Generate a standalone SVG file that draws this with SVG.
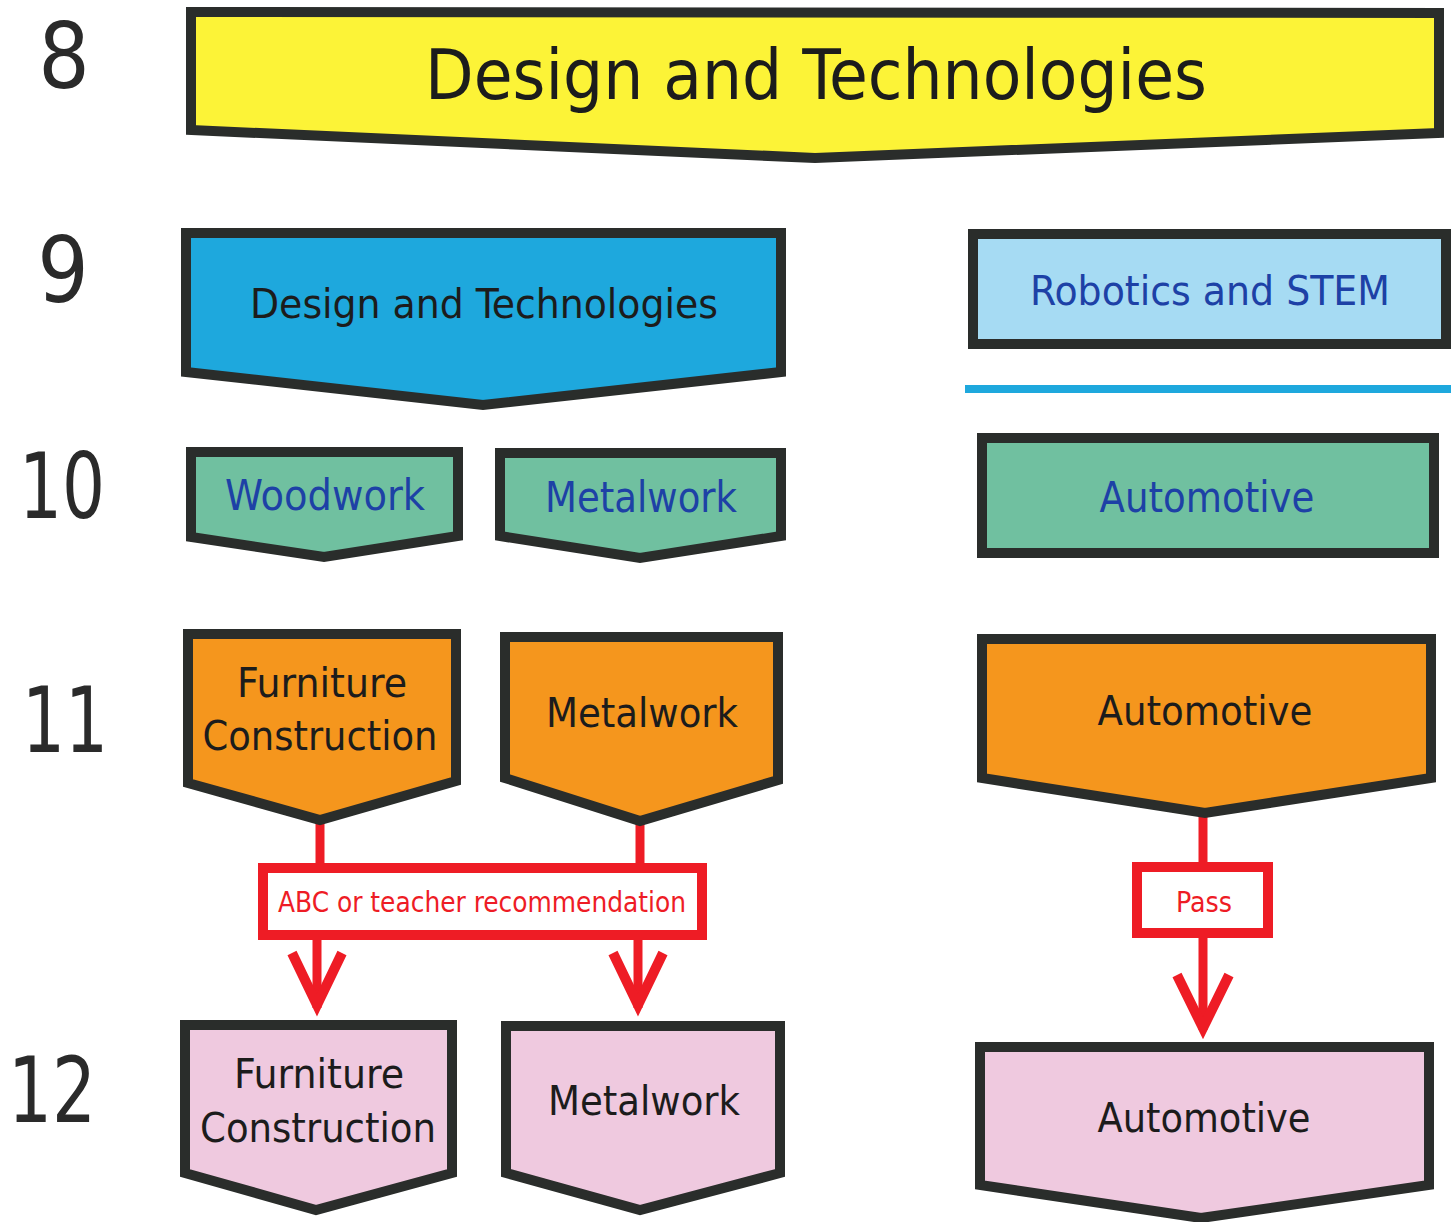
<svg xmlns="http://www.w3.org/2000/svg" width="1456" height="1222" viewBox="0 0 1456 1222">
<style>
.node{stroke:#2a2d2b;stroke-width:10;stroke-linejoin:miter}
.t{font-family:"DejaVu Sans Condensed","DejaVu Sans",sans-serif;font-stretch:condensed;text-anchor:middle}
.num{font-family:"DejaVu Sans Condensed","DejaVu Sans",sans-serif;font-stretch:condensed;text-anchor:middle;fill:#2a2a2a;font-size:90px}
.dark{fill:#1c1c1c}
.blue{fill:#1d41a6}
.red{stroke:#ee1c25;fill:none}
.redt{fill:#ee1c25}
.yellow{fill:#fcf337}
.sky{fill:#1ea8dd}
.light{fill:#a6dbf3}
.green{fill:#70c0a0}
.orange{fill:#f5961d}
.pink{fill:#efc9df}
</style>
<rect width="1456" height="1222" fill="#ffffff"/>
<g id="year-labels">
<text class="num" x="64" y="88">8</text>
<text class="num" x="63" y="302">9</text>
<text class="num" x="62" y="518" textLength="86" lengthAdjust="spacingAndGlyphs">10</text>
<text class="num" x="65" y="752" textLength="86" lengthAdjust="spacingAndGlyphs">11</text>
<text class="num" x="52" y="1122" textLength="88" lengthAdjust="spacingAndGlyphs">12</text>
</g>
<g id="connectors">
<g class="red" stroke-width="9">
<line x1="320" y1="820" x2="320" y2="868"/>
<line x1="640" y1="821" x2="640" y2="868"/>
<line x1="317" y1="938" x2="317" y2="1008"/>
<line x1="638" y1="938" x2="638" y2="1008"/>
<line x1="1203" y1="813" x2="1203" y2="866"/>
<line x1="1203" y1="936" x2="1203" y2="1030"/>
</g>
<g class="red" stroke-width="10" stroke-linejoin="miter" stroke-miterlimit="10">
<polyline points="292,953 317,1005 342,953"/>
<polyline points="613,953 638,1005 663,953"/>
<polyline points="1177,975 1203,1028 1229,975"/>
</g>
</g>
<g id="abc-recommendation">
<rect x="263" y="868" width="439" height="67" fill="#ffffff" stroke="#ee1c25" stroke-width="10"/>
<text class="t redt" x="482" y="912" font-size="28" textLength="408" lengthAdjust="spacingAndGlyphs">ABC or teacher recommendation</text>
</g>
<g id="pass">
<rect x="1137" y="867" width="131" height="66" fill="#ffffff" stroke="#ee1c25" stroke-width="10"/>
<text class="t redt" x="1204" y="912" font-size="28" textLength="56" lengthAdjust="spacingAndGlyphs">Pass</text>
</g>
<g id="y8-design-tech">
<polygon class="node yellow" points="191,12 1439,13 1439,133 815,158 191,130"/>
<text class="t dark" x="816" y="99" font-size="70" textLength="782" lengthAdjust="spacingAndGlyphs">Design and Technologies</text>
</g>
<g id="y9-design-tech">
<polygon class="node sky" points="186,233 781,233 781,372 483,405 186,372"/>
<text class="t dark" x="484" y="318" font-size="41" textLength="468" lengthAdjust="spacingAndGlyphs">Design and Technologies</text>
</g>
<g id="y9-robotics">
<rect class="node light" x="973" y="234" width="473" height="110"/>
<text class="t blue" x="1210" y="305" font-size="41" textLength="360" lengthAdjust="spacingAndGlyphs">Robotics and STEM</text>
</g>
<g id="y9-divider">
<rect x="965" y="385" width="486" height="8" fill="#1ea8dd"/>
</g>
<g id="y10-woodwork">
<polygon class="node green" points="191,452 458,452 458,536 324,557 191,537"/>
<text class="t blue" x="325" y="510" font-size="42" textLength="200" lengthAdjust="spacingAndGlyphs">Woodwork</text>
</g>
<g id="y10-metalwork">
<polygon class="node green" points="500,453 781,453 781,536 640,558 500,536"/>
<text class="t blue" x="641" y="512" font-size="42" textLength="192" lengthAdjust="spacingAndGlyphs">Metalwork</text>
</g>
<g id="y10-automotive">
<rect class="node green" x="982" y="438" width="452" height="115"/>
<text class="t blue" x="1207" y="512" font-size="42" textLength="215" lengthAdjust="spacingAndGlyphs">Automotive</text>
</g>
<g id="y11-furniture">
<polygon class="node orange" points="188,634 456,634 456,781 320,820 188,783"/>
<text class="t dark" x="322" y="697" font-size="40" textLength="170" lengthAdjust="spacingAndGlyphs">Furniture</text>
<text class="t dark" x="320" y="750" font-size="40" textLength="235" lengthAdjust="spacingAndGlyphs">Construction</text>
</g>
<g id="y11-metalwork">
<polygon class="node orange" points="505,637 778,637 778,780 640,821 505,778"/>
<text class="t dark" x="642" y="727" font-size="40" textLength="192" lengthAdjust="spacingAndGlyphs">Metalwork</text>
</g>
<g id="y11-automotive">
<polygon class="node orange" points="982,639 1431,639 1431,778 1205,813 982,778"/>
<text class="t dark" x="1205" y="725" font-size="40" textLength="215" lengthAdjust="spacingAndGlyphs">Automotive</text>
</g>
<g id="y12-furniture">
<polygon class="node pink" points="185,1025 452,1025 452,1173 316,1210 185,1173"/>
<text class="t dark" x="319" y="1088" font-size="40" textLength="170" lengthAdjust="spacingAndGlyphs">Furniture</text>
<text class="t dark" x="318" y="1142" font-size="40" textLength="236" lengthAdjust="spacingAndGlyphs">Construction</text>
</g>
<g id="y12-metalwork">
<polygon class="node pink" points="506,1026 780,1026 780,1173 640,1210 506,1173"/>
<text class="t dark" x="644" y="1115" font-size="40" textLength="192" lengthAdjust="spacingAndGlyphs">Metalwork</text>
</g>
<g id="y12-automotive">
<polygon class="node pink" points="980,1047 1429,1047 1429,1185 1201,1218 980,1185"/>
<text class="t dark" x="1204" y="1132" font-size="40" textLength="213" lengthAdjust="spacingAndGlyphs">Automotive</text>
</g>
</svg>
